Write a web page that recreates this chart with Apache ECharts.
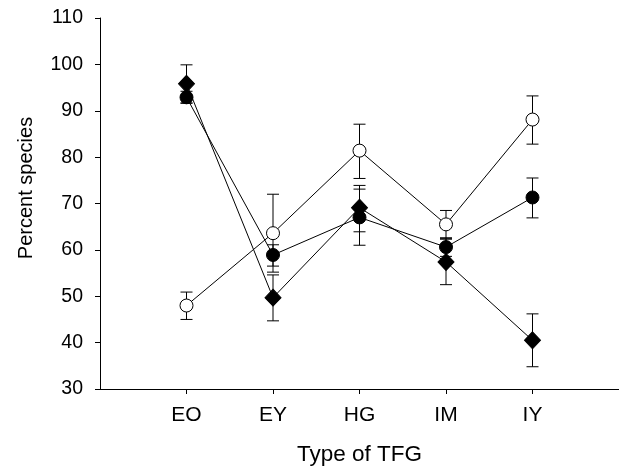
<!DOCTYPE html>
<html>
<head>
<meta charset="utf-8">
<script src="https://cdn.jsdelivr.net/npm/echarts@6/dist/echarts.min.js"></script>
<style>html,body{margin:0;padding:0;background:#fff;}#c{width:619px;height:471px;}</style>
</head>
<body>
<div id="c"></div>
<script>
var categories = ['EO', 'EY', 'HG', 'IM', 'IY'];
var yTicks = [30, 40, 50, 60, 70, 80, 90, 100, 110];

var openMean = [48.0, 63.6, 81.4, 65.5, 88.1];
var openLow  = [45.0, 55.2, 75.4, 62.5, 82.8];
var openHigh = [50.9, 72.0, 87.1, 68.5, 93.2];

var filledMean = [92.9, 58.9, 67.0, 60.6, 71.3];
var filledLow  = [91.6, 56.5, 61.0, 58.6, 66.9];
var filledHigh = [94.2, 61.1, 73.1, 62.6, 75.5];

var diamondMean = [95.8, 49.7, 69.1, 57.4, 40.5];
var diamondLow  = [91.7, 44.7, 63.9, 52.5, 34.8];
var diamondHigh = [99.9, 54.6, 73.9, 62.3, 46.2];

var FONT = 'Liberation Sans, Arial, sans-serif';

function pts(means) {
  return means.map(function (v, i) { return [i + 1, v]; });
}
function errData(low, high) {
  return low.map(function (l, i) { return [i + 1, l, high[i]]; });
}
function errSeries(low, high) {
  return {
    type: 'custom',
    z: 1,
    silent: true,
    data: errData(low, high),
    renderItem: function (params, api) {
      var x = api.value(0);
      var lo = api.coord([x, api.value(1)]);
      var hi = api.coord([x, api.value(2)]);
      var hw = 6;
      var st = { stroke: '#000', lineWidth: 1 };
      return {
        type: 'group',
        children: [
          { type: 'line', shape: { x1: lo[0], y1: lo[1], x2: hi[0], y2: hi[1] }, style: st },
          { type: 'line', shape: { x1: lo[0] - hw, y1: lo[1], x2: lo[0] + hw, y2: lo[1] }, style: st },
          { type: 'line', shape: { x1: hi[0] - hw, y1: hi[1], x2: hi[0] + hw, y2: hi[1] }, style: st }
        ]
      };
    }
  };
}
function lineSeries(means, symbol, size, fill, z) {
  return {
    type: 'line',
    z: z,
    data: pts(means),
    symbol: symbol,
    symbolSize: size,
    showAllSymbol: true,
    lineStyle: { color: '#000', width: 1 },
    itemStyle: { color: fill, borderColor: '#000', borderWidth: 1 },
    emphasis: { disabled: true },
    animation: false
  };
}

var chart = echarts.init(document.getElementById('c'), null, { renderer: 'canvas' });
chart.setOption({
  animation: false,
  backgroundColor: '#fff',
  grid: { left: 100, top: 18, width: 530, height: 372, containLabel: false },
  xAxis: {
    type: 'value',
    min: 0, max: categories.length + 1, interval: 1,
    name: 'Type of TFG',
    nameLocation: 'middle',
    nameGap: 54,
    nameTextStyle: { fontFamily: FONT, fontSize: 22.5, color: '#000' },
    axisLine: { lineStyle: { color: '#000', width: 1 } },
    axisTick: { show: true, length: 5, inside: false, lineStyle: { color: '#000' }, customValues: [1, 2, 3, 4, 5] },
    axisLabel: {
      fontFamily: FONT, fontSize: 21, color: '#000', margin: 16,
      customValues: [1, 2, 3, 4, 5],
      formatter: function (v) { return categories[v - 1] || ''; }
    },
    splitLine: { show: false }
  },
  yAxis: {
    type: 'value',
    min: yTicks[0], max: yTicks[yTicks.length - 1], interval: 10,
    axisLine: { show: true, lineStyle: { color: '#000', width: 1 } },
    axisTick: { show: true, length: 5, inside: false, lineStyle: { color: '#000' } },
    axisLabel: { fontFamily: FONT, fontSize: 19.5, color: '#000', margin: 17 },
    splitLine: { show: false }
  },
  graphic: [{
    type: 'text',
    x: 26, y: 188,
    rotation: Math.PI / 2,
    style: { text: 'Percent species', fontFamily: FONT, fontSize: 20, fill: '#000', align: 'center', verticalAlign: 'middle' }
  }],
  series: [
    errSeries(diamondLow, diamondHigh),
    errSeries(filledLow, filledHigh),
    errSeries(openLow, openHigh),
    lineSeries(diamondMean, 'diamond', [16, 17], '#000', 3),
    lineSeries(filledMean, 'circle', 13, '#000', 4),
    lineSeries(openMean, 'circle', 13, '#fff', 5)
  ]
});
</script>
</body>
</html>
